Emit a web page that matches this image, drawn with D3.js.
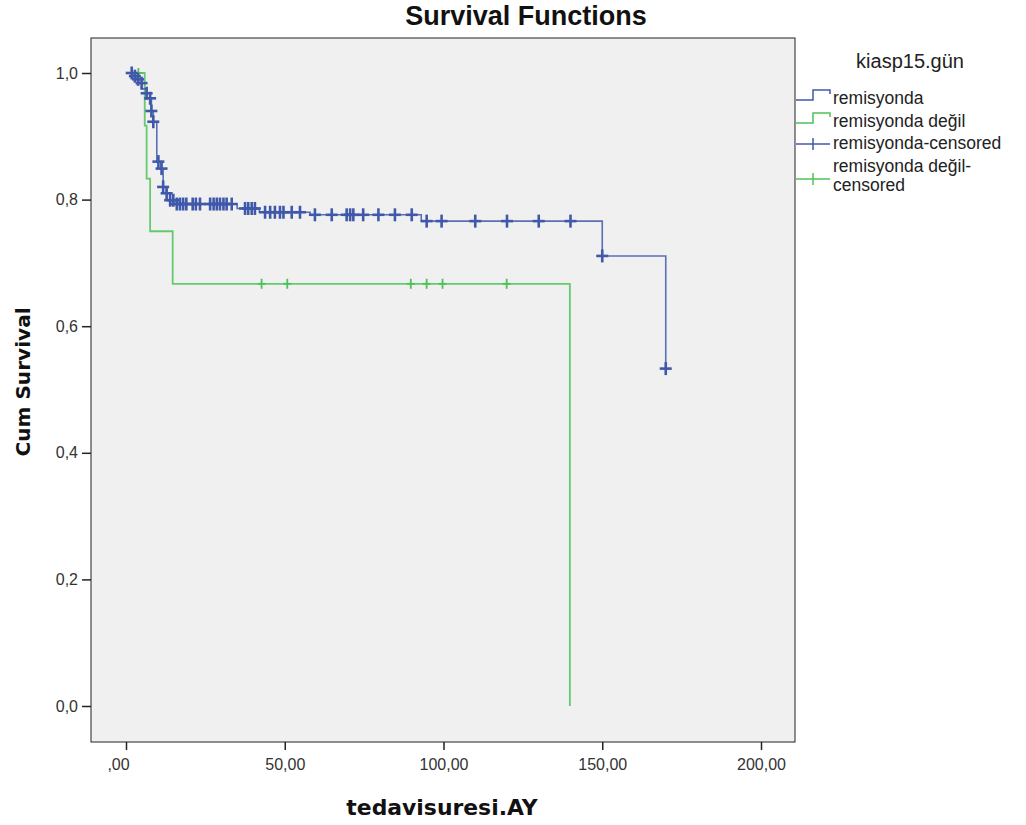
<!DOCTYPE html>
<html>
<head>
<meta charset="utf-8">
<script src="https://cdn.jsdelivr.net/npm/d3@7"></script>
<style>
  body { margin: 0; background: #fff; }
  text { font-family: "Liberation Sans", Arial, sans-serif; }
</style>
</head>
<body>
<svg width="1026" height="825"></svg>
<script>
// survival steps
const blueTimes = [0, 2, 3, 4, 5, 6.5, 7.5, 8, 8.6, 9.7, 11, 11.7, 12.7, 13.9, 15, 35, 42, 58, 93, 150, 170];
const blueSurv = [1, 0.995, 0.99, 0.984, 0.975, 0.968, 0.96, 0.94, 0.923, 0.86, 0.849, 0.82, 0.81, 0.799, 0.793, 0.786, 0.78, 0.776, 0.766, 0.711, 0.533];
const blueCensored = [1.8, 2.8, 3.8, 4.9, 6.5, 7.6, 8, 8.6, 10.2, 11.2, 11.7, 12.8, 13.9, 14.9, 16, 17, 18, 19, 21, 22, 23.3,
  26.5, 27.6, 28.6, 29.6, 30.7, 31.7, 33.3, 37.5, 38.5, 39.6, 40.6, 43.8, 45.4, 46.9, 48.5, 49.6, 52.2, 54.8, 59.5,
  64.8, 69.5, 70.6, 71.6, 74.7, 79.5, 84.7, 90, 94.7, 99.4, 110, 120, 130, 140, 150, 170];

const greenTimes = [0, 5.9, 6.5, 7.6, 14.7, 139.8];
const greenSurv = [1, 0.917, 0.833, 0.75, 0.667, 0];
const greenCensored = [3.9, 42.7, 50.8, 89.7, 94.7, 99.7, 119.9];

const xTicks = [0, 50, 100, 150, 200];
const yTicks = [0, 0.2, 0.4, 0.6, 0.8, 1.0];

const blue = "#4058aa", green = "#4cc257";

let svg = d3.select("svg");
let frame = { left: 91, right: 795, top: 38, bottom: 742 };

let x = d3.scaleLinear().domain([0, 200]).range([126, 761]);
let y = d3.scaleLinear().domain([0, 1]).range([706, 73]);

svg.append("rect")
  .attr("x", frame.left).attr("y", frame.top)
  .attr("width", frame.right - frame.left).attr("height", frame.bottom - frame.top)
  .attr("fill", "#f0f0f0").attr("stroke", "#222").attr("stroke-width", 1);

// axes
let fmt = v => v === 0 ? ",00" : d3.format(".2f")(v).replace(".", ",");
let xAxis = svg.append("g")
  .attr("transform", `translate(0,${frame.bottom})`)
  .call(d3.axisBottom(x).tickValues(xTicks).tickSize(8).tickPadding(9).tickFormat(fmt));
let yAxis = svg.append("g")
  .attr("transform", `translate(${frame.left},0)`)
  .call(d3.axisLeft(y).tickValues(yTicks).tickSize(9).tickPadding(4).tickFormat(v => d3.format(".1f")(v).replace(".", ",")));
[xAxis, yAxis].forEach(a => {
  a.select(".domain").remove();
  a.selectAll("line").attr("stroke", "#222").attr("stroke-width", 1.5);
  a.selectAll("text").attr("fill", "#333").style("font-size", "16px");
});
xAxis.selectAll("text").filter(d => d === 0).attr("dx", -8);

// curves
let line = d3.line().x(d => x(d[0])).y(d => y(d[1])).curve(d3.curveStepAfter);
let survAt = (times, surv, t) => {
  let i = d3.bisectRight(times, t) - 1;
  return surv[Math.max(i, 0)];
};

function drawGroup(times, surv, censored, color, width, crossW, crossH, crossStroke) {
  let g = svg.append("g");
  g.append("path")
    .datum(d3.zip(times, surv))
    .attr("fill", "none").attr("stroke", color).attr("stroke-width", width)
    .attr("opacity", 0.85)
    .attr("d", line);
  let c = g.selectAll("g.cens").data(censored).join("g")
    .attr("transform", t => `translate(${x(t)},${y(survAt(times, surv, t))})`);
  c.append("line").attr("x1", -crossW).attr("x2", crossW)
    .attr("stroke", color).attr("stroke-width", crossStroke);
  c.append("line").attr("y1", -crossH).attr("y2", crossH)
    .attr("stroke", color).attr("stroke-width", crossStroke);
}
drawGroup(greenTimes, greenSurv, greenCensored, green, 1.8, 4, 5, 1.8);
drawGroup(blueTimes, blueSurv, blueCensored, blue, 1.6, 6, 6.5, 2.6);

// titles
svg.append("text").attr("x", 526).attr("y", 25).attr("text-anchor", "middle")
  .style("font-size", "27px").style("font-weight", "bold").attr("fill", "#111").text("Survival Functions");
let xt = svg.append("text").attr("x", 442).attr("y", 815).attr("text-anchor", "middle")
  .style("font-family", "'DejaVu Sans'").style("font-size", "22px").style("font-weight", "bold")
  .attr("fill", "#111").text("tedavisuresi.AY");
let yt = svg.append("text").attr("transform", "translate(30,382) rotate(-90)").attr("text-anchor", "middle")
  .style("font-family", "'DejaVu Sans'").style("font-size", "22px").style("font-weight", "bold")
  .attr("fill", "#111").text("Cum Survival");
// fit the two axis titles to the widths seen in the picture
[[xt, 191], [yt, 149]].forEach(([t, w]) => {
  let cur = t.node().getComputedTextLength();
  t.style("font-size", (22 * w / cur).toFixed(1) + "px");
});

// legend
let legend = svg.append("g");
legend.append("text").attr("x", 910).attr("y", 68).attr("text-anchor", "middle")
  .style("font-size", "20px").attr("fill", "#222").text("kiasp15.gün");
let stepSym = "M796,0 H813 V-10 H830 V-6";
[[blue, 100, "remisyonda"], [green, 123, "remisyonda değil"]].forEach(([col, yy, label]) => {
  legend.append("path").attr("d", stepSym).attr("transform", `translate(0,${yy})`)
    .attr("fill", "none").attr("stroke", col).attr("stroke-width", 1.5);
  legend.append("text").attr("x", 833).attr("y", yy + 4).style("font-size", "17.5px").attr("fill", "#222").text(label);
});
[[blue, 144, ["remisyonda-censored"]], [green, 179, ["remisyonda değil-", "censored"]]].forEach(([col, yy, lines]) => {
  legend.append("line").attr("x1", 796).attr("x2", 830).attr("y1", yy).attr("y2", yy)
    .attr("stroke", col).attr("stroke-width", 1.5);
  legend.append("line").attr("x1", 813).attr("x2", 813).attr("y1", yy - 6).attr("y2", yy + 6)
    .attr("stroke", col).attr("stroke-width", 1.5);
  let t = legend.append("text").style("font-size", "17.5px").attr("fill", "#222");
  lines.forEach((l, i) => t.append("tspan").attr("x", 833)
    .attr("y", lines.length > 1 ? yy - 7 + i * 19 : yy + 5).text(l));
});
</script>
</body>
</html>
